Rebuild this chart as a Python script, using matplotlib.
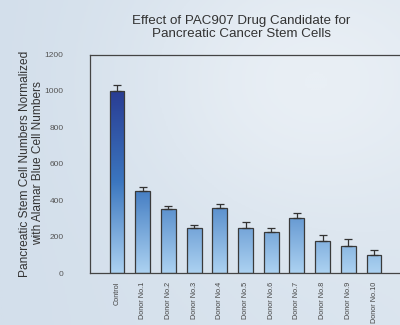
import numpy as np
import matplotlib.pyplot as plt
from matplotlib.colors import LinearSegmentedColormap

plt.rcParams['font.family'] = ['Liberation Sans', 'DejaVu Sans']

labels = ['Control', 'Donor No.1', 'Donor No.2', 'Donor No.3', 'Donor No.4',
          'Donor No.5', 'Donor No.6', 'Donor No.7', 'Donor No.8', 'Donor No.9',
          'Donor No.10']
values = [1000, 450, 350, 250, 355, 250, 225, 300, 175, 150, 100]
errors = [35, 22, 20, 15, 22, 30, 22, 30, 32, 35, 25]
yticks = [0, 200, 400, 600, 800, 1000, 1200]

fig = plt.figure(figsize=(4.0, 3.25), dpi=100)

# soft blue backdrop
bg = fig.add_axes([0, 0, 1, 1], zorder=-10)
gx = np.linspace(0, 1, 200)
gy = np.linspace(0, 1, 160)
X, Y = np.meshgrid(gx, gy)
shade = 0.55 * np.exp(-((X - 0.75) ** 2 + (Y - 0.75) ** 2) / 0.18) + 0.25 * X
bg_cmap = LinearSegmentedColormap.from_list('bg', ['#d3dfeb', '#e9eff5'])
bg.imshow(shade, cmap=bg_cmap, aspect='auto', extent=[0, 1, 0, 1], origin='lower')
bg.set_axis_off()

ax = fig.add_axes([0.225, 0.16, 0.80, 0.672])
ax.patch.set_alpha(0)

bar_cmap = LinearSegmentedColormap.from_list(
    'bars', [(0.0, '#acd2f1'), (0.5, '#3b76bf'), (1.0, '#293c93')])
grad = np.linspace(0, 1, 256).reshape(-1, 1)

x = np.arange(len(labels))
bars = ax.bar(x, values, width=0.58, facecolor='none', edgecolor='#3a3a3a',
              linewidth=0.9, zorder=3)
for b in bars:
    x0 = b.get_x()
    im = ax.imshow(grad, cmap=bar_cmap, aspect='auto', origin='lower',
                   extent=[x0, x0 + b.get_width(), 0, 1000],
                   vmin=0, vmax=1, zorder=2)
    im.set_clip_path(b)

ax.errorbar(x, values, yerr=[np.zeros(len(errors)), errors], fmt='none',
            ecolor='#333333', elinewidth=0.9, capsize=3, capthick=0.9, zorder=4)

ax.set_xlim(-1.05, 11.4)
ax.set_ylim(0, 1200)
ax.set_yticks(yticks)
ax.set_yticklabels([str(t) for t in yticks], fontsize=6, color='#555555')
ax.set_xticks(x)
ax.set_xticklabels(labels, rotation=90, fontsize=5.2, color='#444444')
ax.tick_params(axis='y', length=0, pad=19)
ax.tick_params(axis='x', length=0, pad=6.5)
for side in ['left', 'bottom', 'top']:
    ax.spines[side].set_color('#444444')
    ax.spines[side].set_linewidth(0.9)
ax.spines['right'].set_visible(False)

fig.text(0.603, 0.915, 'Effect of PAC907 Drug Candidate for\nPancreatic Cancer Stem Cells',
         ha='center', va='center', fontsize=9.6, color='#333333', linespacing=1.12)
fig.text(0.079, 0.497, 'Pancreatic Stem Cell Numbers Normalized\nwith Alamar Blue Cell Numbers',
         ha='center', va='center', rotation=90, fontsize=8.6, color='#333333',
         multialignment='center', linespacing=1.05)

fig.savefig('out.png', dpi=100)
